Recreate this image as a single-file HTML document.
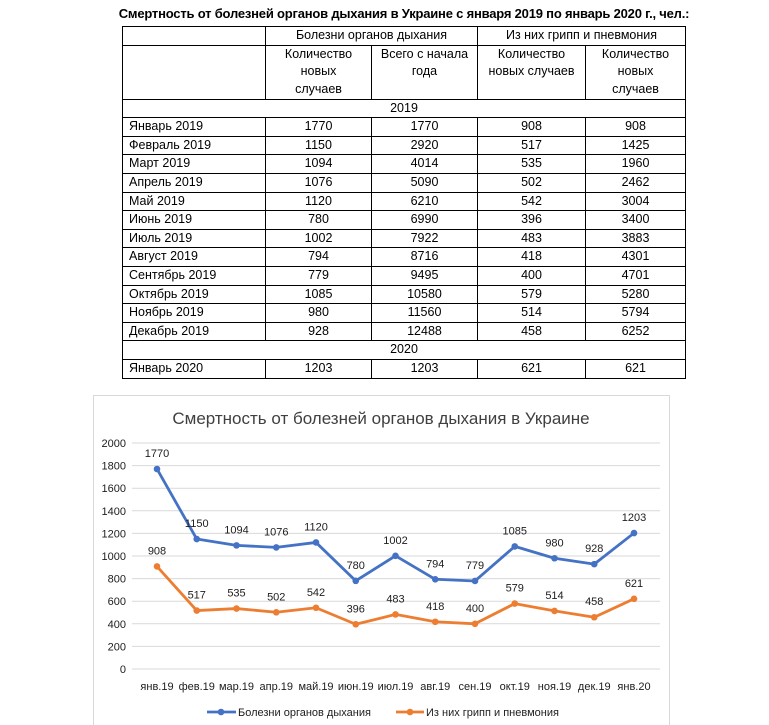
<!DOCTYPE html>
<html><head><meta charset="utf-8"><style>
body{margin:0;background:#fff;width:769px;height:725px;position:relative;overflow:hidden;font-family:"Liberation Sans","DejaVu Sans",sans-serif;}
.t{position:absolute;left:0;top:6px;width:808px;text-align:center;font-weight:bold;font-size:13px;color:#000;letter-spacing:-0.2px}
table{position:absolute;left:122px;top:26px;border-collapse:collapse;font-size:12.5px;color:#000}
td{border:1px solid #000;padding:0 6px;height:17.6px;line-height:17.6px;text-align:center;white-space:nowrap}
td.l{text-align:left}
</style></head><body>
<div class="t">Смертность от болезней органов дыхания в Украине с января 2019 по январь 2020 г., чел.:</div>
<table>
<colgroup><col style="width:143px"><col style="width:106px"><col style="width:106px"><col style="width:108px"><col style="width:100px"></colgroup>
<tr><td></td><td colspan="2">Болезни органов дыхания</td><td colspan="2">Из них грипп и пневмония</td></tr>
<tr><td style="height:53px"></td><td style="line-height:17.6px;vertical-align:top">Количество<br>новых<br>случаев</td><td style="vertical-align:top">Всего с начала<br>года</td><td style="vertical-align:top">Количество<br>новых случаев</td><td style="vertical-align:top">Количество<br>новых<br>случаев</td></tr>
<tr><td colspan="5">2019</td></tr>
<tr><td class="l">Январь 2019</td><td>1770</td><td>1770</td><td>908</td><td>908</td></tr>
<tr><td class="l">Февраль 2019</td><td>1150</td><td>2920</td><td>517</td><td>1425</td></tr>
<tr><td class="l">Март 2019</td><td>1094</td><td>4014</td><td>535</td><td>1960</td></tr>
<tr><td class="l">Апрель 2019</td><td>1076</td><td>5090</td><td>502</td><td>2462</td></tr>
<tr><td class="l">Май 2019</td><td>1120</td><td>6210</td><td>542</td><td>3004</td></tr>
<tr><td class="l">Июнь 2019</td><td>780</td><td>6990</td><td>396</td><td>3400</td></tr>
<tr><td class="l">Июль 2019</td><td>1002</td><td>7922</td><td>483</td><td>3883</td></tr>
<tr><td class="l">Август 2019</td><td>794</td><td>8716</td><td>418</td><td>4301</td></tr>
<tr><td class="l">Сентябрь 2019</td><td>779</td><td>9495</td><td>400</td><td>4701</td></tr>
<tr><td class="l">Октябрь 2019</td><td>1085</td><td>10580</td><td>579</td><td>5280</td></tr>
<tr><td class="l">Ноябрь 2019</td><td>980</td><td>11560</td><td>514</td><td>5794</td></tr>
<tr><td class="l">Декабрь 2019</td><td>928</td><td>12488</td><td>458</td><td>6252</td></tr>
<tr><td colspan="5">2020</td></tr>
<tr><td class="l">Январь 2020</td><td>1203</td><td>1203</td><td>621</td><td>621</td></tr>
</table>
<svg id="c" style="position:absolute;left:0;top:0" width="769" height="725" xmlns="http://www.w3.org/2000/svg" font-family="Liberation Sans, DejaVu Sans, sans-serif"></svg>
<script>
var s=document.getElementById('c'),h='';
h+='<rect x="93.5" y="395.5" width="576" height="335" fill="none" stroke="#d9d9d9"/>';
h+='<text x="381" y="424" font-size="17" text-anchor="middle" fill="#404040">Смертность от болезней органов дыхания в Украине</text>';
function Y(v){return 669-v*0.113;}
for(var v=0;v<=2000;v+=200){var y=Y(v);h+='<line x1="132" x2="660" y1="'+y+'" y2="'+y+'" stroke="#d9d9d9"/>';h+='<text x="126" y="'+(y+4)+'" font-size="11" text-anchor="end" fill="#202020">'+v+'</text>';}
var m=['янв.19','фев.19','мар.19','апр.19','май.19','июн.19','июл.19','авг.19','сен.19','окт.19','ноя.19','дек.19','янв.20'];
var a=[1770,1150,1094,1076,1120,780,1002,794,779,1085,980,928,1203],b=[908,517,535,502,542,396,483,418,400,579,514,458,621];
function X(i){return 157+i*39.75;}
m.forEach(function(t,i){h+='<text x="'+X(i)+'" y="690" font-size="11" text-anchor="middle" fill="#202020">'+t+'</text>';});
function ser(d,c){var p=d.map(function(v,i){return X(i)+','+Y(v)}).join(' ');h+='<polyline points="'+p+'" fill="none" stroke="'+c+'" stroke-width="2.8" stroke-linejoin="round"/>';d.forEach(function(v,i){h+='<circle cx="'+X(i)+'" cy="'+Y(v)+'" r="3.3" fill="'+c+'"/><text x="'+X(i)+'" y="'+(Y(v)-12)+'" font-size="11" text-anchor="middle" fill="#202020">'+v+'</text>';});}
ser(a,'#4472c4');ser(b,'#ed7d31');
h+='<line x1="207" x2="236" y1="712" y2="712" stroke="#4472c4" stroke-width="2.8"/><circle cx="221" cy="712" r="3.3" fill="#4472c4"/><text x="238" y="716" font-size="11" fill="#202020">Болезни органов дыхания</text>';
h+='<line x1="396" x2="424" y1="712" y2="712" stroke="#ed7d31" stroke-width="2.8"/><circle cx="410" cy="712" r="3.3" fill="#ed7d31"/><text x="426" y="716" font-size="11" fill="#202020">Из них грипп и пневмония</text>';
s.innerHTML=h;
</script>
</body></html>
